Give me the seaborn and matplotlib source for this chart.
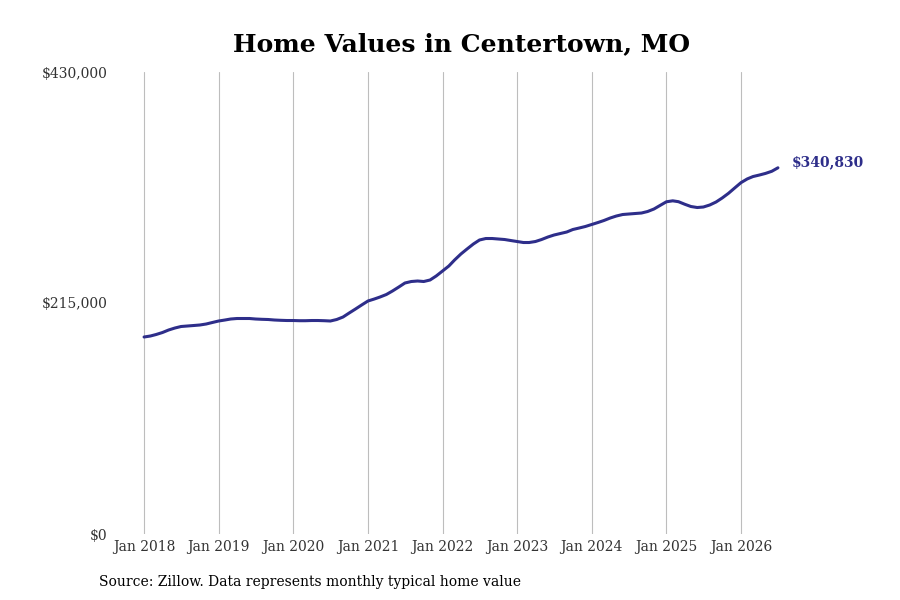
import pandas as pd
import seaborn as sns
import matplotlib.pyplot as plt
import matplotlib.dates as mdates
from matplotlib.ticker import FuncFormatter

# monthly typical home value, Jan 2018 .. Jul 2026
values_2018 = [183350, 184280, 185670, 187530, 189860, 191720, 193120, 193590, 194050, 194520, 195450, 196840]
values_2019 = [198240, 199170, 200100, 200570, 200570, 200570, 200100, 199820, 199630, 199170, 198890, 198700]
values_2020 = [198700, 198520, 198520, 198700, 198700, 198520, 198240, 199630, 201960, 205680, 209410, 213130]
values_2021 = [216850, 218710, 220570, 222900, 226160, 229880, 233610, 235000, 235470, 235000, 236400, 240120]
values_2022 = [244770, 249430, 255010, 260600, 265250, 269900, 273630, 275020, 275020, 274560, 274090, 273160]
values_2023 = [272230, 271300, 271300, 272230, 274090, 276420, 278280, 279680, 281070, 283400, 284790, 286190]
values_2024 = [288050, 289910, 291770, 294100, 295960, 297360, 297820, 298290, 298750, 300150, 302480, 305800]
values_2025 = [309200, 310100, 309300, 306900, 304810, 303870, 304340, 306200, 308990, 312720, 317100, 322000]
values_2026 = [327000, 330500, 332700, 334100, 335600, 337600, 340830]

values = (values_2018 + values_2019 + values_2020 + values_2021 + values_2022
          + values_2023 + values_2024 + values_2025 + values_2026)
dates = pd.date_range("2018-01-01", periods=len(values), freq="MS")
df = pd.DataFrame({"date": dates, "value": values})

y_ticks = [0, 215000, 430000]
x_tick_years = list(range(2018, 2027))

line_color = "#2e2e8a"

sns.set_theme(style="white")
plt.rcParams["font.family"] = ["DejaVu Serif"]

fig = plt.figure(figsize=(9, 6), dpi=100)
ax = fig.add_axes([112 / 900, 66 / 600, 698 / 900, 462 / 600])

sns.lineplot(data=df, x="date", y="value", color=line_color, linewidth=2.2, ax=ax)
for ln in ax.get_lines():
    ln.set_solid_joinstyle("round")
    ln.set_solid_capstyle("round")

ax.set_ylim(0, 430000)
ax.set_xlim(pd.Timestamp("2017-07-28"), pd.Timestamp("2026-12-05"))
ax.set_yticks(y_ticks)
ax.yaxis.set_major_formatter(FuncFormatter(lambda v, p: f"${v:,.0f}"))
ax.set_xticks([pd.Timestamp(f"{y}-01-01") for y in x_tick_years])
ax.xaxis.set_major_formatter(mdates.DateFormatter("Jan %Y"))

ax.grid(axis="x", color="#bdbdbd", linewidth=0.8)
ax.grid(axis="y", visible=False)
for s in ax.spines.values():
    s.set_visible(False)
ax.tick_params(axis="both", length=0, labelsize=10, colors="#333333")
ax.tick_params(axis="y", pad=3.5)
ax.tick_params(axis="x", pad=4)
ax.set_xlabel("")
ax.set_ylabel("")

ax.annotate(f"${values[-1]:,}", xy=(df["date"].iloc[-1], values[-1]),
            xytext=(10, 4), textcoords="offset points",
            color=line_color, fontsize=10, fontweight="bold", va="center")

fig.text(0.513, 0.926, "Home Values in Centertown, MO", ha="center", va="center",
         fontsize=18, fontweight="bold", color="black")
fig.text(99 / 900, 1 - 582 / 600, "Source: Zillow. Data represents monthly typical home value",
         ha="left", va="center", fontsize=10, color="black")

plt.savefig("out.png", dpi=100)
plt.close()
